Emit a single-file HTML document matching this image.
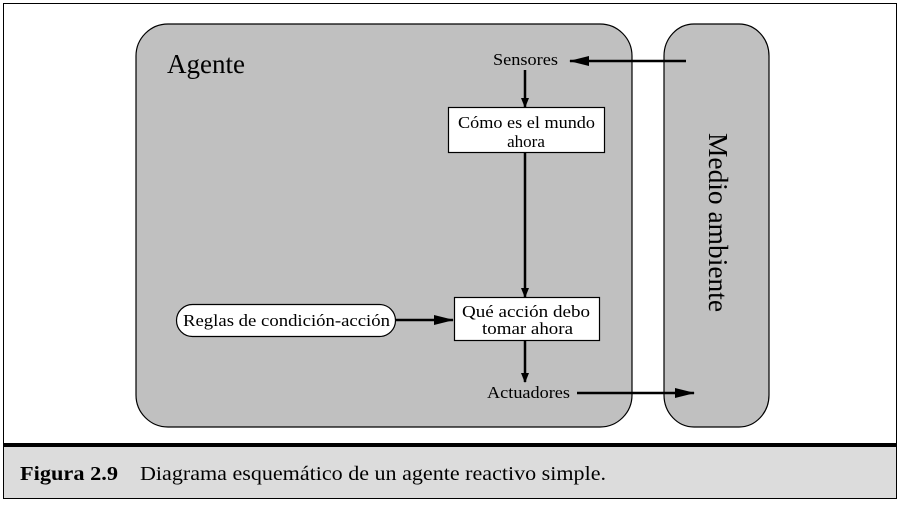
<!DOCTYPE html>
<html><head><meta charset="utf-8"><style>
html,body{margin:0;padding:0;background:#fff;}
body{width:900px;height:503px;overflow:hidden;}
</style></head><body>
<svg width="900" height="503" viewBox="0 0 900 503" xmlns="http://www.w3.org/2000/svg" font-family="Liberation Serif, serif">
<defs>
<marker id="a" markerWidth="10" markerHeight="8" refX="9" refY="4" orient="auto" markerUnits="userSpaceOnUse" viewBox="0 0 10 8">
<path d="M0,0 L10,4 L0,8 Z" fill="#000"/></marker>
<marker id="b" markerWidth="20" markerHeight="10" refX="19" refY="5" orient="auto" markerUnits="userSpaceOnUse" viewBox="0 0 20 10">
<path d="M0,0 L20,5 L0,10 Z" fill="#000"/></marker>
</defs>
<rect x="3.5" y="3.5" width="893" height="495" fill="#fff" stroke="#000" stroke-width="1"/>
<rect x="4" y="446" width="892" height="52" fill="#dcdcdc"/>
<line x1="3" y1="445" x2="897" y2="445" stroke="#000" stroke-width="4"/>
<text x="20" y="480" font-size="20" font-weight="bold" textLength="98" lengthAdjust="spacingAndGlyphs">Figura 2.9</text>
<text x="140" y="480" font-size="20" textLength="466" lengthAdjust="spacingAndGlyphs">Diagrama esquemático de un agente reactivo simple.</text>

<rect x="136" y="24" width="496" height="403" rx="32" ry="32" fill="#c0c0c0" stroke="#000" stroke-width="1.2"/>
<rect x="664" y="24" width="105" height="403" rx="30" ry="32" fill="#c0c0c0" stroke="#000" stroke-width="1.2"/>
<text x="167" y="73" font-size="27" textLength="78" lengthAdjust="spacingAndGlyphs">Agente</text>
<text x="0" y="0" font-size="27" textLength="179" lengthAdjust="spacingAndGlyphs" transform="translate(709,133) rotate(90)">Medio ambiente</text>

<text x="493" y="65" font-size="17" textLength="65" lengthAdjust="spacingAndGlyphs">Sensores</text>
<line x1="686" y1="61" x2="570" y2="61" stroke="#000" stroke-width="2.5" marker-end="url(#b)"/>
<line x1="525" y1="70" x2="525" y2="107" stroke="#000" stroke-width="2.5" marker-end="url(#a)"/>
<rect x="448.5" y="107.5" width="156" height="45" fill="#fff" stroke="#000" stroke-width="1.2"/>
<text x="458" y="128" font-size="17" textLength="137" lengthAdjust="spacingAndGlyphs">Cómo es el mundo</text>
<text x="526" y="147" font-size="17" text-anchor="middle">ahora</text>
<line x1="525" y1="153" x2="525" y2="297" stroke="#000" stroke-width="2.5" marker-end="url(#a)"/>
<rect x="454.5" y="297.5" width="145" height="43" fill="#fff" stroke="#000" stroke-width="1.2"/>
<text x="462" y="317" font-size="17" textLength="128" lengthAdjust="spacingAndGlyphs">Qué acción debo</text>
<text x="482" y="334" font-size="17" textLength="91" lengthAdjust="spacingAndGlyphs">tomar ahora</text>
<rect x="176.5" y="304.5" width="219" height="32" rx="16" ry="16" fill="#fff" stroke="#000" stroke-width="1.2"/>
<text x="183" y="326" font-size="17" textLength="207" lengthAdjust="spacingAndGlyphs">Reglas de condición-acción</text>
<line x1="396" y1="320" x2="453" y2="320" stroke="#000" stroke-width="2.5" marker-end="url(#b)"/>
<line x1="525" y1="341" x2="525" y2="382" stroke="#000" stroke-width="2.5" marker-end="url(#a)"/>
<text x="487" y="398" font-size="17" textLength="83" lengthAdjust="spacingAndGlyphs">Actuadores</text>
<line x1="577" y1="393" x2="694" y2="393" stroke="#000" stroke-width="2.5" marker-end="url(#b)"/>
</svg>
</body></html>
